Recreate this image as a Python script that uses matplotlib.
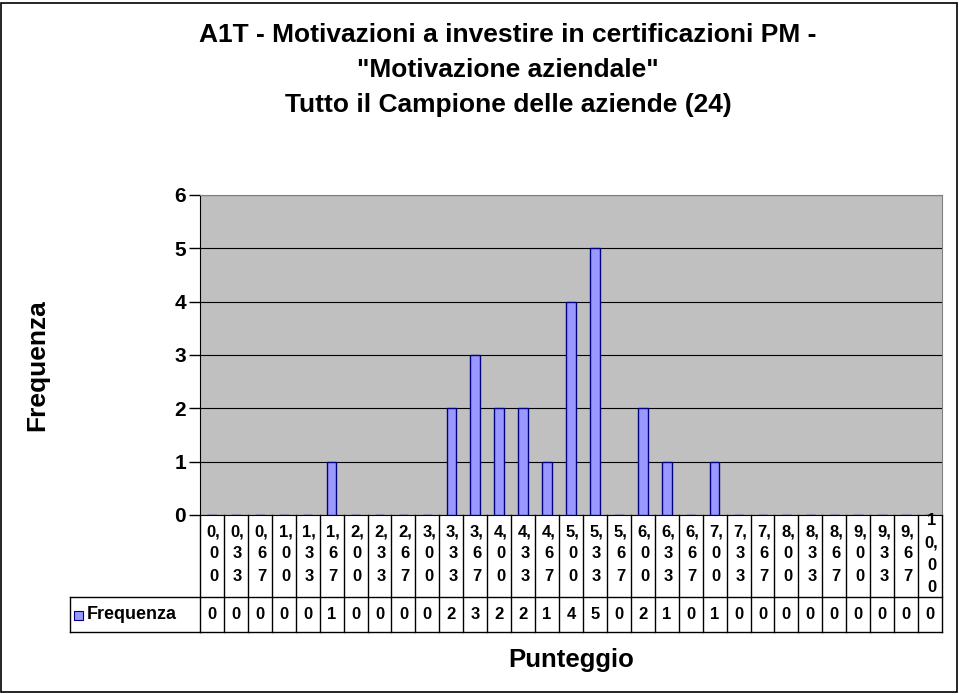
import matplotlib.pyplot as plt
from matplotlib.patches import Rectangle
from matplotlib.transforms import blended_transform_factory

plt.rcParams["font.family"] = ["Liberation Sans", "DejaVu Sans"]
plt.rcParams["font.weight"] = "bold"

# dati
punteggi = ["0,00", "0,33", "0,67", "1,00", "1,33", "1,67", "2,00", "2,33",
            "2,67", "3,00", "3,33", "3,67", "4,00", "4,33", "4,67", "5,00",
            "5,33", "5,67", "6,00", "6,33", "6,67", "7,00", "7,33", "7,67",
            "8,00", "8,33", "8,67", "9,00", "9,33", "9,67", "10,00"]
frequenza = [0, 0, 0, 0, 0, 1, 0, 0, 0, 0, 2, 3, 2, 2, 1, 4, 5, 0, 2, 1,
             0, 1, 0, 0, 0, 0, 0, 0, 0, 0, 0]
y_ticks = [0, 1, 2, 3, 4, 5, 6]

W, H = 959, 695
fig = plt.figure(figsize=(W / 100, H / 100), dpi=100)

# bordo esterno
fig.patches.append(Rectangle((1 / W, 3 / H), 956 / W, 689 / H, transform=fig.transFigure,
                             fill=False, edgecolor="black", linewidth=1.2))

left, right, top, bottom = 200, 942, 195, 515
ax = fig.add_axes([left / W, 1 - bottom / H, (right - left) / W, (bottom - top) / H])
ax.set_facecolor("#C0C0C0")

x = list(range(len(punteggi)))
ax.bar(x, frequenza, width=0.4, color="#9999FF", edgecolor="#000080", linewidth=1.0, zorder=3)

ax.set_xlim(-0.5, len(punteggi) - 0.5)
ax.set_ylim(0, 6)
ax.set_yticks(y_ticks)
ax.set_yticklabels([str(v) for v in y_ticks], fontsize=15, fontweight="bold")
ax.tick_params(axis="y", length=8, width=1, pad=2)
ax.tick_params(axis="x", bottom=False, labelbottom=False)
ax.yaxis.grid(True, color="black", linewidth=0.8, zorder=0)
ax.set_axisbelow(True)
for side in ["top", "right"]:
    ax.spines[side].set_color("#808080")
ax.spines["left"].set_color("black")
ax.spines["bottom"].set_color("black")

# tabella dati sotto il grafico
tr = blended_transform_factory(ax.transData, fig.transFigure)
y0, y1, y2 = 1 - 515 / H, 1 - 597 / H, 1 - 632 / H
n = len(punteggi)
for i in range(n + 1):
    ax.plot([i - 0.5, i - 0.5], [y2, y0], transform=tr, color="black", lw=1, clip_on=False)
ax.plot([-0.5, n - 0.5], [y1, y1], transform=tr, color="black", lw=1, clip_on=False)
ax.plot([-0.5, n - 0.5], [y2, y2], transform=tr, color="black", lw=1, clip_on=False)

# cella legenda
fig.add_artist(plt.Line2D([70 / W, left / W], [y1, y1], color="black", lw=1))
fig.add_artist(plt.Line2D([70 / W, left / W], [y2, y2], color="black", lw=1))
fig.add_artist(plt.Line2D([70 / W, 70 / W], [y2, y1], color="black", lw=1))
fig.patches.append(Rectangle((74 / W, 1 - 620 / H), 9 / W, 9 / H, transform=fig.transFigure,
                             facecolor="#9999FF", edgecolor="#000080", linewidth=0.8))
fig.text(87 / W, (y1 + y2) / 2, "Frequenza", fontsize=13, fontweight="bold",
         va="center", ha="left")

for i, (p, f) in enumerate(zip(punteggi, frequenza)):
    intero, dec = p.split(",")
    if len(intero) > 1:
        lab = "\n".join(list(intero[:-1]) + [intero[-1] + ","] + list(dec))
    else:
        lab = "\n".join([intero + ","] + list(dec))
    ax.text(i + 0.07, (y0 + y1) / 2 + 2 / H, lab, transform=tr, ha="center", va="center",
            fontsize=12, fontweight="bold", linespacing=1.6, clip_on=False)
    ax.text(i, (y1 + y2) / 2, str(f), transform=tr, ha="center", va="center",
            fontsize=12, fontweight="bold", clip_on=False)

fig.text(508 / W, 1 - 70 / H,
         "A1T - Motivazioni a investire in certificazioni PM -\n"
         "\"Motivazione aziendale\"\nTutto il Campione delle aziende (24)",
         ha="center", va="center", fontsize=19, fontweight="bold", linespacing=1.6)
fig.text(37 / W, 1 - 365 / H, "Frequenza", rotation=90, ha="center", va="center",
         fontsize=19, fontweight="bold")
fig.text(571 / W, 1 - 660 / H, "Punteggio", ha="center", va="center",
         fontsize=18.5, fontweight="bold")

fig.savefig("out.png", dpi=100)
